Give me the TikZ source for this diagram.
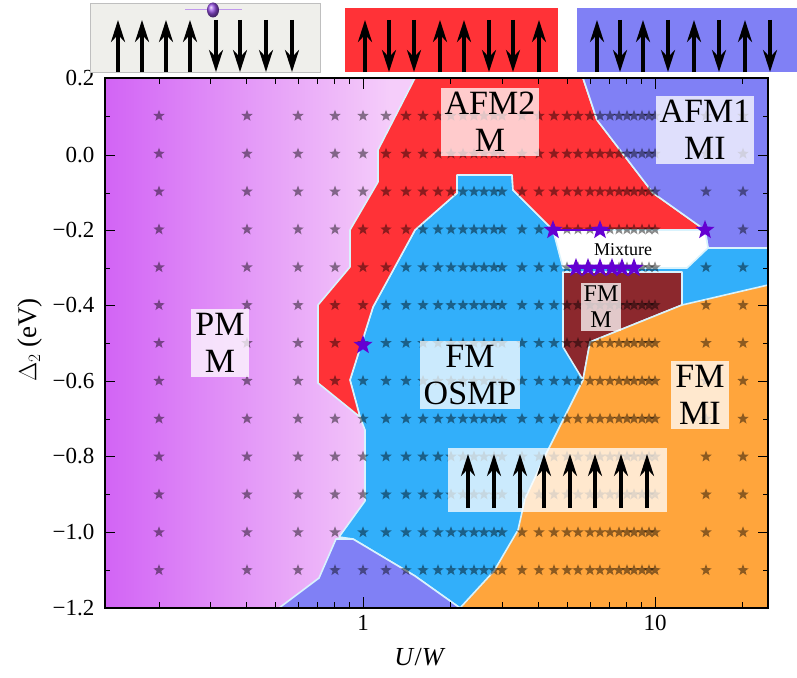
\documentclass[tikz,border=0pt]{standalone}
\usepackage{fontspec}
\setmainfont{Liberation Serif}
\usetikzlibrary{shapes.geometric,arrows.meta}
\definecolor{cred}{RGB}{255,50,55}
\definecolor{cblue}{RGB}{50,175,250}
\definecolor{cafm}{RGB}{128,128,245}
\definecolor{corange}{RGB}{255,165,60}
\definecolor{cbrown}{RGB}{140,40,45}
\definecolor{cgrey}{RGB}{239,239,235}
\definecolor{cpurp}{RGB}{100,0,210}
\begin{document}
\begin{tikzpicture}[x=1pt,y=-1pt,
  region/.style={draw=white!85!cyan,line width=1.6pt,line join=round},
  lab/.style={fill=white,fill opacity=0.75,text opacity=1,align=center,font=\fontsize{34}{37}\selectfont,inner sep=4pt},
  gstar/.style={star,star points=5,star point ratio=2.4,fill=black,fill opacity=0.45,inner sep=0pt,minimum size=12pt},
  pstar/.style={star,star points=5,star point ratio=2.4,fill=cpurp,inner sep=0pt,minimum size=20pt},
  spin/.style={line width=3.2pt,-{Stealth[length=22pt,width=14pt]}},
  tick/.style={line width=0.9pt},
  tl/.style={font=\fontsize{23}{23}\selectfont}]
\useasboundingbox (0,0) rectangle (797,677);
% PM background
\shade[left color={rgb,255:red,210;green,100;blue,245},right color={rgb,255:red,245;green,205;blue,250}] (105,78) rectangle (390,608);
\fill[fill={rgb,255:red,245;green,205;blue,250}] (389,78) rectangle (768,608);
% FM OSMP blue
\fill[cblue,region] (457,175)--(512,175)--(513,190)--(553,230)--(768,230)--(768,608)--(460,608)--(415,576)--(353,539)--(339,537)--(365,501)--(365,430)--(360,417)--(350,380)--(373,307)--(415,230)--(457,193)--cycle;
% AFM2 red
\fill[cred,region] (415,78)--(583,78)--(597,120)--(653,193)--(705,230)--(553,230)--(513,190)--(512,175)--(457,175)--(457,193)--(415,230)--(373,307)--(350,380)--(360,417)--(318,383)--(318,305)--(350,267)--(350,230)--(378,182)--(378,150)--cycle;
% AFM1
\fill[cafm,region] (583,78)--(768,78)--(768,248)--(708,248)--(705,230)--(653,193)--(597,120)--cycle;
% Mixture
\fill[white,region] (553,230)--(705,230)--(708,248)--(687,268)--(563,268)--cycle;
% FM M brown
\fill[cbrown,region] (563,272)--(682,272)--(682,305)--(590,342)--(583,380)--(563,347)--cycle;
% FM MI orange
\fill[corange,region] (460,608)--(494,571)--(518,530)--(525,499)--(546,454)--(583,380)--(590,342)--(682,305)--(768,285)--(768,608)--cycle;
% bottom-left AFM
\fill[cafm,region] (279,608)--(319,578)--(336,539)--(353,539)--(415,576)--(460,608)--cycle;
% grey stars
\foreach \xx in {159,247,298,335,363,386,406,423,438,451,463,474,484,494,502,522,539,554,567,578,590,600,610,619,627,634,642,649,655,706,743}{
  \foreach \k in {1,...,13}{
    \node[gstar] (s\xx-\k) at (\xx,{78+37.86*\k}) {};
  }
}
% purple stars
\draw[cpurp,line width=2.5pt] (553,230)--(610,230);
\draw[cpurp,line width=2.5pt] (576,268)--(634,268);
\foreach \xx/\yy [count=\i] in {553/230,600/230,705/230,576/268,588/268,600/268,612/268,622/268,634/268,363/345}{
  \node[pstar] (p\i) at (\xx,\yy) {};
}
% labels
\node[lab] (afm2) at (490,122) {AFM2\\M};
\node[lab] (afm1) at (705,130) {AFM1\\MI};
\node[lab] (pm) at (220,343) {PM\\M};
\node[lab] (fmosmp) at (470,375) {FM\\OSMP};
\node[lab] (fmmi) at (700,395) {FM\\MI};
\node[lab,font=\fontsize{24}{26}\selectfont,inner sep=3pt] (fmm) at (601,307) {FM\\M};
\node[font=\fontsize{18}{18}\selectfont] (mix) at (623,250) {Mixture};
\node[fill=white,fill opacity=0.75,minimum width=219pt,minimum height=64pt] (fmbox) at (557,480) {};
\foreach \xx in {468,494,520,544,570,595,621,647}{
  \draw[spin] (\xx,508) -- (\xx,454);
}
% frame and ticks
\draw[line width=1.3pt] (105,78) rectangle (768,608);
\foreach \yy/\lb in {78/0.2,155/0.0,230/{−0.2},305/{−0.4},381/{−0.6},456/{−0.8},532/{−1.0},608/{−1.2}}{
  \draw[tick] (105,\yy)--(115,\yy);
  \draw[tick] (768,\yy)--(758,\yy);
  \node[tl,anchor=east] (yl\yy) at (98,\yy) {\lb};
}
\foreach \yy in {116,193,268,343,419,494,570}{
  \draw[tick] (105,\yy)--(110,\yy);
  \draw[tick] (768,\yy)--(763,\yy);
}
\foreach \v in {0.2,0.3,0.4,0.5,0.6,0.7,0.8,0.9,2,3,4,5,6,7,8,9,20}{
  \pgfmathsetmacro{\px}{363+292*log10(\v)}
  \draw[tick] (\px,608)--(\px,602);
  \draw[tick] (\px,78)--(\px,84);
}
\foreach \px/\lb in {363/1,655/10}{
  \draw[tick] (\px,608)--(\px,597);
  \draw[tick] (\px,78)--(\px,89);
  \node[tl,anchor=north] (xl\px) at (\px,612) {\lb};
}
\node[font=\fontsize{26}{26}\selectfont] (xlab) at (420,657) {\textit{U}/\textit{W}};
\node[font=\fontsize{27}{27}\selectfont,rotate=90] (ylab) at (30,340) {$\Delta_2$ (eV)};
% top insets
\draw[fill=cgrey,draw=gray!50] (90,3) rectangle (320,72);
\draw[draw=cpurp!40,line width=1pt] (185,10)--(242,10);
\shade[ball color=cpurp!70] (213,10) ellipse (6pt and 7.5pt);
\foreach \xx in {118,142,166,190}{\draw[spin] (\xx,72)--(\xx,20);}
\foreach \xx in {216,240,266,292}{\draw[spin] (\xx,20)--(\xx,72);}
\fill[cred] (345,8) rectangle (558,72);
\foreach \xx in {365,440,464,539}{\draw[spin] (\xx,72)--(\xx,20);}
\foreach \xx in {389,414,489,513}{\draw[spin] (\xx,20)--(\xx,72);}
\fill[cafm] (577,8) rectangle (797,72);
\foreach \xx in {597,643,694,745}{\draw[spin] (\xx,72)--(\xx,20);}
\foreach \xx in {620,668,719,770}{\draw[spin] (\xx,20)--(\xx,72);}
\end{tikzpicture}
\end{document}
